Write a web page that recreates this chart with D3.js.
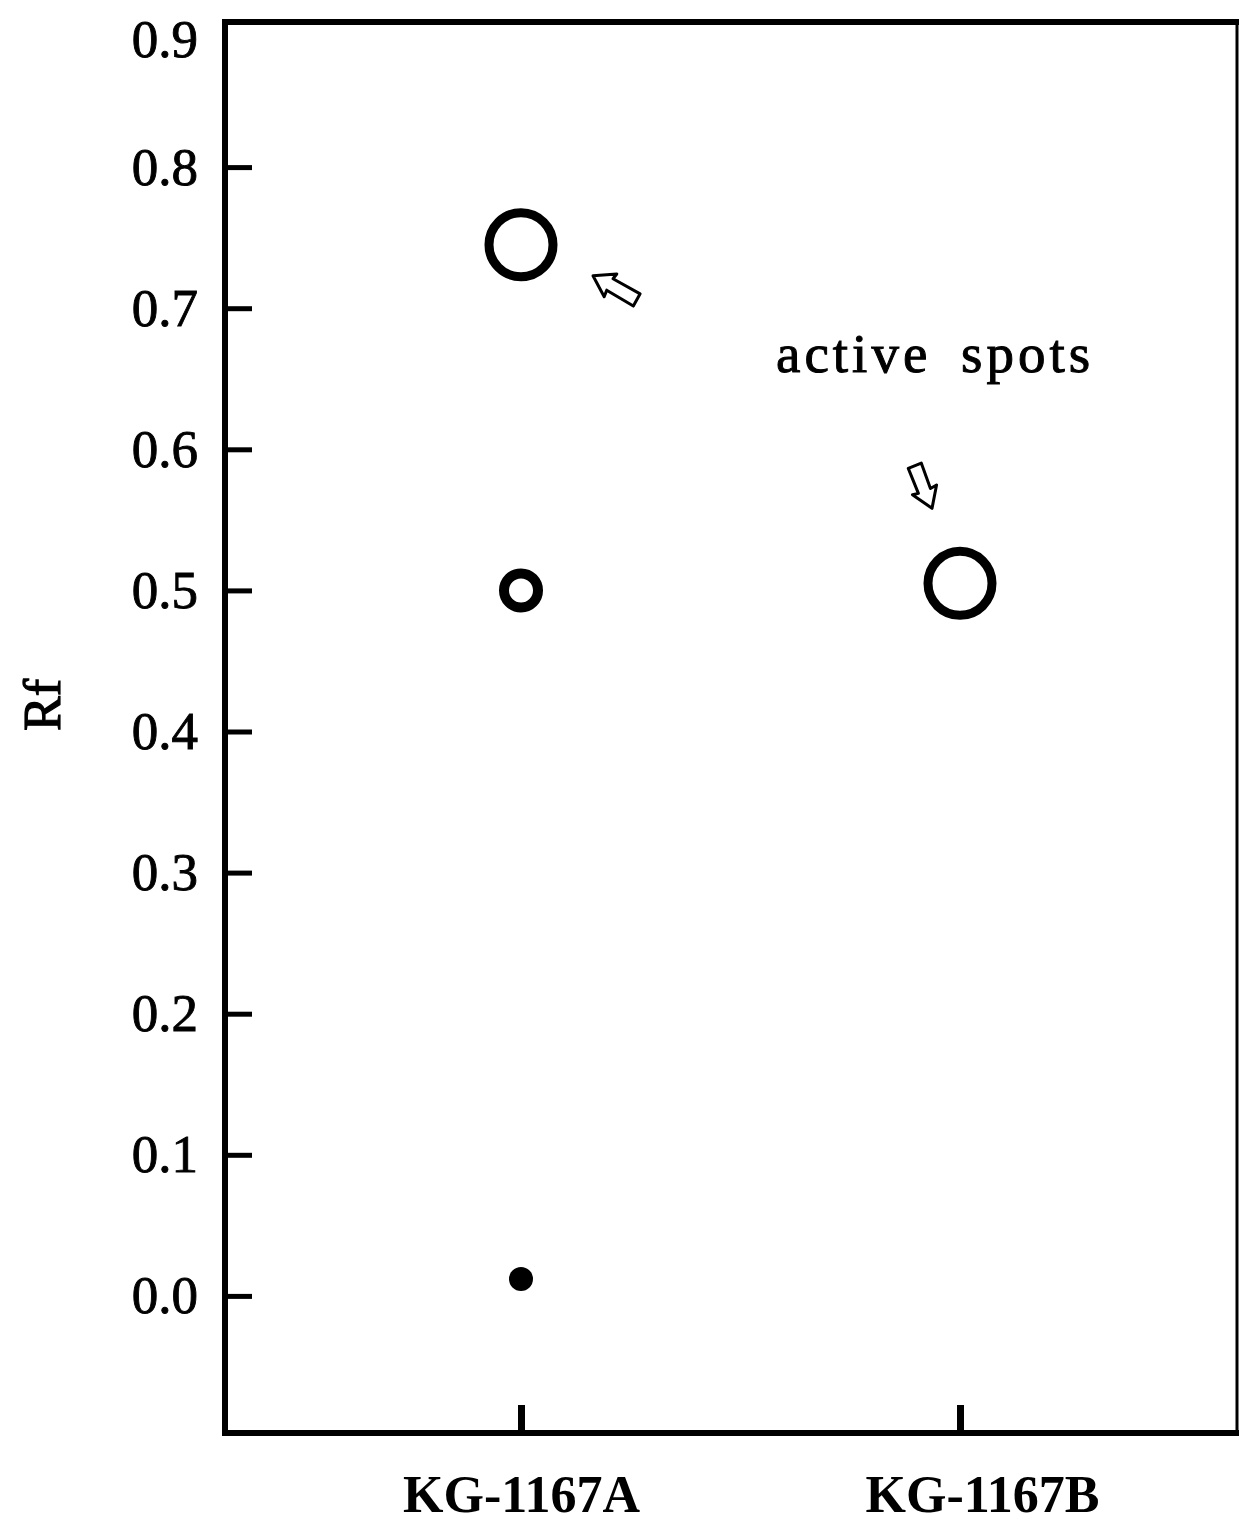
<!DOCTYPE html>
<html>
<head>
<meta charset="utf-8">
<script src="https://cdn.jsdelivr.net/npm/d3@7"></script>
<style>
  body { margin: 0; background: #fff; }
  svg { display: block; }
  text { font-family: "Liberation Serif", "Times New Roman", serif; fill: #000; }
</style>
</head>
<body>
<script>
// samples on the plate and where the spots ended up
var lanes = ["KG-1167A", "KG-1167B"];
var spotLane = ["KG-1167A", "KG-1167A", "KG-1167A", "KG-1167B"];
var spotRf = [0.745, 0.50, 0.012, 0.505];
var spotKind = ["large", "small", "origin", "large"];
var activeSpot = [0, 3]; // indices of the spots marked "active"
var yTicks = [0.0, 0.1, 0.2, 0.3, 0.4, 0.5, 0.6, 0.7, 0.8, 0.9];

var W = 1239, H = 1523;
var frame = { left: 225, top: 22, right: 1236, bottom: 1433 };

var svg = d3.select("body").append("svg")
    .attr("width", W)
    .attr("height", H);

var y = d3.scaleLinear()
    .domain([-0.1, 0.9])
    .range([1437, 26]);

// lanes are not evenly centred in the frame, so keep a linear index scale
var x = d3.scaleLinear()
    .domain([0, 1])
    .range([521, 960]);
var laneX = function (name) { return x(lanes.indexOf(name)); };

// frame
svg.append("rect")
    .attr("x", frame.left)
    .attr("y", frame.top)
    .attr("width", frame.right - frame.left)
    .attr("height", frame.bottom - frame.top)
    .style("fill", "none")
    .style("stroke", "#000")
    .style("stroke-width", 6);

// thinner right edge, as in the scan
svg.append("line")
    .attr("x1", frame.right).attr("x2", frame.right)
    .attr("y1", frame.top + 3).attr("y2", frame.bottom - 3)
    .style("stroke", "#fff").style("stroke-width", 6);
svg.append("line")
    .attr("x1", frame.right + 1).attr("x2", frame.right + 1)
    .attr("y1", frame.top - 3).attr("y2", frame.bottom + 3)
    .style("stroke", "#000").style("stroke-width", 3);

// y axis, ticks pointing inwards
var yAxis = d3.axisLeft(y)
    .tickValues(yTicks)
    .tickFormat(d3.format(".1f"))
    .tickSizeInner(-27)
    .tickSizeOuter(0)
    .tickPadding(27);

var gy = svg.append("g")
    .attr("transform", "translate(" + frame.left + ",0)")
    .call(yAxis);
gy.select(".domain").remove();
gy.selectAll(".tick line")
    .style("stroke", "#000")
    .style("stroke-width", 5);
gy.selectAll(".tick text")
    .style("font-family", "'Liberation Serif', serif")
    .style("font-size", "53px")
    .style("fill", "#000")
    .style("stroke", "#000")
    .style("stroke-width", 0.9);
// top label sits a little below the corner, and no tick there
gy.selectAll(".tick").filter(function (d) { return d === 0.9; })
    .each(function () {
        d3.select(this).select("line").remove();
        d3.select(this).select("text").attr("y", 14);
    });

// x axis, ticks pointing up
var xAxis = d3.axisBottom(x)
    .tickValues([0, 1])
    .tickFormat(function (i) { return lanes[i]; })
    .tickSizeInner(-28)
    .tickSizeOuter(0)
    .tickPadding(42);

var gx = svg.append("g")
    .attr("transform", "translate(0," + frame.bottom + ")")
    .call(xAxis);
gx.select(".domain").remove();
gx.selectAll(".tick line")
    .style("stroke", "#000")
    .style("stroke-width", 7);
gx.selectAll(".tick text")
    .style("font-family", "'Liberation Serif', serif")
    .style("font-size", "52px")
    .style("font-weight", "bold")
    .style("fill", "#000");
// the B label is set a little right of its tick
gx.selectAll(".tick text").filter(function (d) { return d === 1; })
    .attr("dx", 22);

// y title
svg.append("text")
    .attr("transform", "translate(60,705) rotate(-90)")
    .attr("text-anchor", "middle")
    .style("font-size", "52px")
    .style("stroke", "#000")
    .style("stroke-width", 1.2)
    .text("Rf");

// spots
var spotStyle = {
    large: { r: 32, sw: 9, fill: "none" },
    small: { r: 17, sw: 10, fill: "none" },
    origin: { r: 12, sw: 0, fill: "#000" }
};

svg.selectAll("circle.spot")
    .data(spotRf)
    .enter().append("circle")
    .attr("class", "spot")
    .attr("cx", function (d, i) { return laneX(spotLane[i]); })
    .attr("cy", function (d) { return y(d); })
    .attr("r", function (d, i) { return spotStyle[spotKind[i]].r; })
    .style("fill", function (d, i) { return spotStyle[spotKind[i]].fill; })
    .style("stroke", "#000")
    .style("stroke-width", function (d, i) { return spotStyle[spotKind[i]].sw; });

// open block arrows pointing at the active spots
// offset of the arrow tip from its spot, and the direction it points in
var arrowTip = [[72, 31], [-28, -75]];
var arrowAngle = [209, 68];
var arrowLen = [50, 46];

var arrowPath = function (L) {
    return "M0,0 L-20,-13 L-19,-6 L" + (-L) + ",-7 L" + (-L) + ",7 L-19,7 L-20,13 Z";
};

svg.selectAll("path.arrow")
    .data(activeSpot)
    .enter().append("path")
    .attr("class", "arrow")
    .attr("d", function (d, i) { return arrowPath(arrowLen[i]); })
    .attr("transform", function (d, i) {
        var cx = laneX(spotLane[d]) + arrowTip[i][0];
        var cy = y(spotRf[d]) + arrowTip[i][1];
        return "translate(" + cx + "," + cy + ") rotate(" + arrowAngle[i] + ")";
    })
    .style("fill", "#fff")
    .style("stroke", "#000")
    .style("stroke-width", 3)
    .style("stroke-linejoin", "round");

svg.append("text")
    .attr("x", 776)
    .attr("y", 372)
    .style("font-size", "55px")
    .style("letter-spacing", "4px")
    .style("word-spacing", "12px")
    .style("stroke", "#000")
    .style("stroke-width", 1)
    .text("active spots");
</script>
</body>
</html>
